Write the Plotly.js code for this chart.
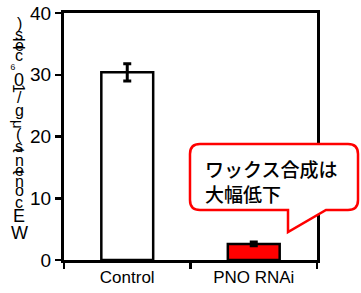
<!DOCTYPE html>
<html>
<head>
<meta charset="utf-8">
<script src="https://cdn.plot.ly/plotly-3.0.1.min.js"></script>
<style>html,body{margin:0;padding:0;background:#fff;}#chart{width:361px;height:293px;}</style>
</head>
<body>
<div id="chart"></div>
<script>
// Data
const categories = ["Control", "PNO RNAi"];
const values = [30.4, 2.6];
const errors = [1.4, 0.3];
const barColors = ["#ffffff", "#ff0000"];
const yTickVals = [0, 10, 20, 30, 40];
const calloutLines = ["ワックス合成は", "大幅低下"];
const yTitleText = "WE contents (μg/10⁶ cells)";

// layout geometry (pixels)
const W = 361, H = 293;
const L = 64, R = 44, T = 13, B = 33;
const pw = W - L - R, ph = H - T - B;
const px = x => (x - L) / pw;
const py = y => (H - B - y) / ph;

// stacked vertical title characters, top to bottom: [char, yPixel, rotated, xPixel, size]
const titleChars = [
  [")", 24, false, 19, 16],
  ["s", 34, false, 19, 16],
  ["l", 40, true, 19, 16],
  ["e", 45, false, 19, 16],
  ["l", 48, true, 19, 16],
  ["c", 56, false, 19, 16],
  ["⁶", 68, false, 13, 14],
  ["0", 80, false, 19, 18],
  ["1", 88, true, 19, 16],
  ["/", 97, false, 19, 16],
  ["g", 110, false, 19, 16],
  ["μ", 124, true, 19, 15],
  ["(", 134, false, 19, 16],
  ["s", 146, false, 19, 16],
  ["t", 150, true, 19, 16],
  ["n", 160, false, 19, 16],
  ["e", 170, false, 19, 16],
  ["t", 172, true, 19, 16],
  ["n", 181, false, 19, 16],
  ["o", 191, false, 19, 16],
  ["c", 202, false, 19, 16],
  ["E", 216, false, 19, 18],
  ["W", 233, false, 19, 18]
];

const annotations = titleChars.map(c => ({
  text: c[0], xref: "paper", yref: "paper", x: px(c[3]), y: py(c[1]),
  xanchor: "center", yanchor: "middle", showarrow: false, textangle: c[2] ? 90 : 0,
  font: {family: "Liberation Sans, Arial, sans-serif", size: c[4], color: "#000"}
}));

annotations.push({
  text: calloutLines.join("<br>"), xref: "paper", yref: "paper",
  x: px(203), y: py(181), xanchor: "left", yanchor: "middle", align: "left", showarrow: false,
  font: {family: "Noto Sans CJK JP, sans-serif", size: 19, color: "#000", weight: 500}
});

// callout path (pixels -> paper)
function P(x, y) { return px(x).toFixed(4) + "," + py(y).toFixed(4); }
const calloutPath = "M" + P(200,144) + " L" + P(348,144) + " Q" + P(358,144) + " " + P(358,154) +
  " L" + P(358,200) + " Q" + P(358,210) + " " + P(348,210) + " L" + P(326,210) + " L" + P(288,232) +
  " L" + P(288,210) + " L" + P(200,210) + " Q" + P(190,210) + " " + P(190,200) + " L" + P(190,154) +
  " Q" + P(190,144) + " " + P(200,144) + " Z";

const trace = {
  type: "bar", x: categories, y: values, width: 0.41,
  marker: {color: barColors, line: {color: "#000", width: 2.5}},
  error_y: {type: "data", array: errors, visible: true, color: "#000", thickness: 3, width: 4},
  hoverinfo: "none"
};

const layout = {
  width: W, height: H, margin: {l: L, r: R, t: T, b: B},
  paper_bgcolor: "#fff", plot_bgcolor: "#fff", showlegend: false,
  font: {family: "Liberation Sans, Arial, sans-serif", color: "#000"},
  xaxis: {type: "category", range: [-0.5, 1.5], showline: true, linecolor: "#000", linewidth: 3,
    mirror: true, ticks: "outside", tickson: "boundaries", ticklen: 6, tickwidth: 2.5, tickcolor: "#000",
    showgrid: false, zeroline: false, fixedrange: true, tickfont: {size: 17, color: "#000"}},
  yaxis: {range: [0, 40], tickvals: yTickVals, showline: true, linecolor: "#000", linewidth: 3,
    mirror: true, ticks: "outside", ticklen: 6, tickwidth: 2.5, tickcolor: "#000",
    showgrid: false, zeroline: false, fixedrange: true, tickfont: {size: 19, color: "#000"}},
  shapes: [{type: "path", xref: "paper", yref: "paper", path: calloutPath, layer: "above",
    fillcolor: "#fff", line: {color: "#ff0000", width: 2.5}}],
  annotations: annotations
};

Plotly.newPlot("chart", [trace], layout, {staticPlot: true, displayModeBar: false});
</script>
</body>
</html>
